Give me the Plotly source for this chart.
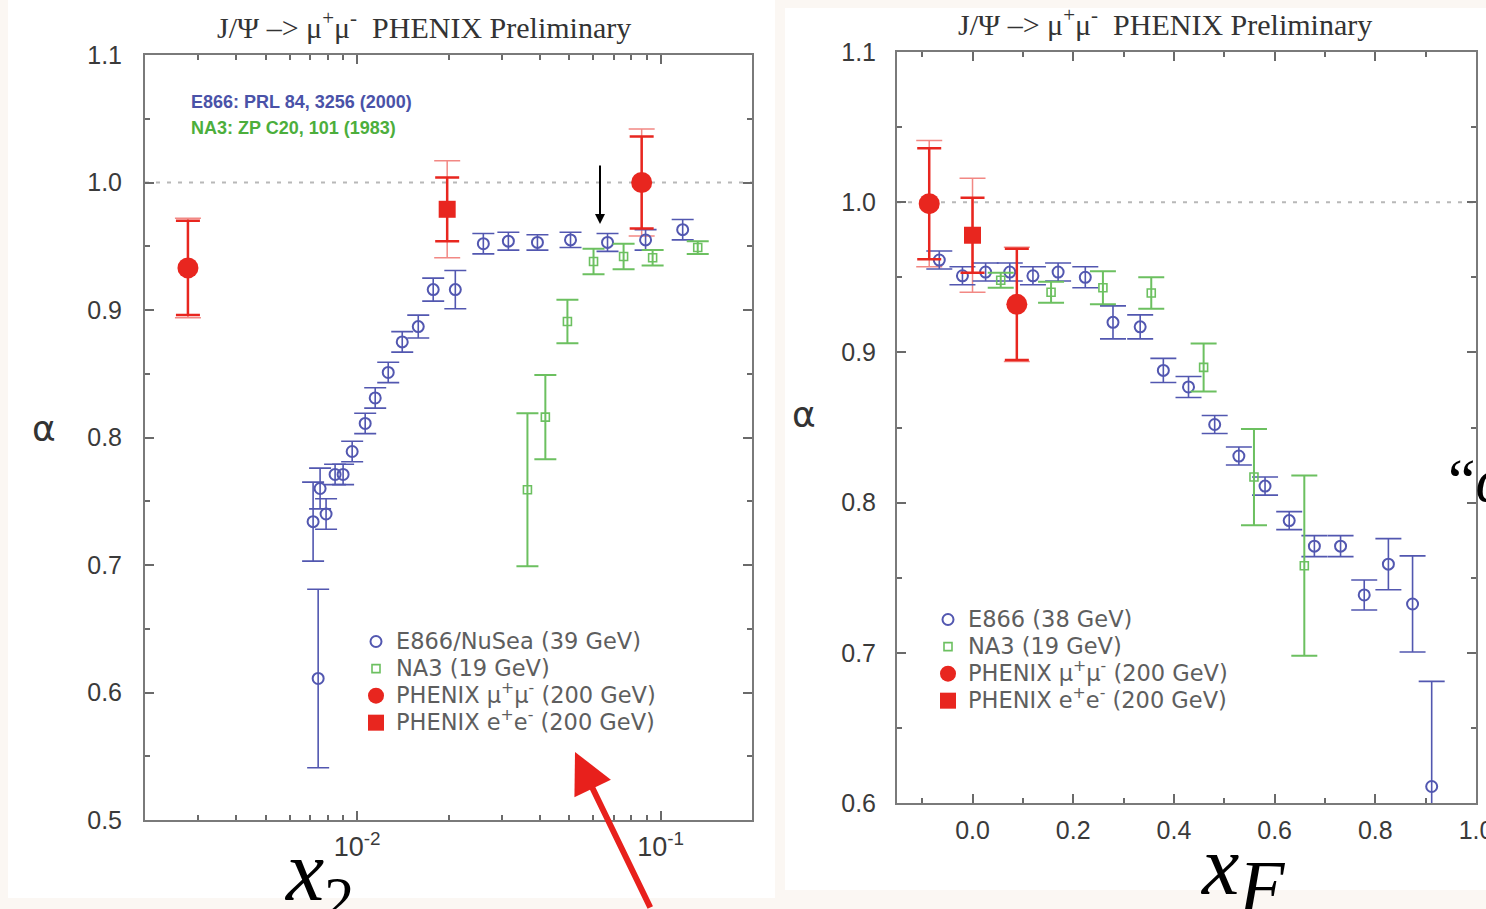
import math
import plotly.graph_objects as go

W, H = 1486, 909

# ---------------- data: left panel (alpha vs x2) ----------------
e866_x2 = [0.00716, 0.00744, 0.00755, 0.00790, 0.00846, 0.00899, 0.00963, 0.01063, 0.01147,
           0.01266, 0.01408, 0.01590, 0.01781, 0.02106, 0.02605, 0.03150, 0.03927, 0.05047,
           0.06683, 0.0892, 0.1182]
e866_a_x2 = [0.734, 0.611, 0.760, 0.740, 0.771, 0.771, 0.789, 0.811, 0.831,
             0.851, 0.875, 0.887, 0.916, 0.916, 0.952, 0.954, 0.953, 0.955,
             0.953, 0.955, 0.963]
e866_err_x2 = [0.031, 0.070, 0.016, 0.012, 0.008, 0.008, 0.008, 0.008, 0.008,
               0.008, 0.008, 0.009, 0.009, 0.015, 0.008, 0.007, 0.006, 0.006,
               0.007, 0.008, 0.008]

na3_x2 = [0.0364, 0.0417, 0.0493, 0.0601, 0.0755, 0.0941, 0.1325]
na3_a_x2 = [0.759, 0.816, 0.891, 0.938, 0.942, 0.941, 0.949]
na3_err_x2 = [0.060, 0.033, 0.017, 0.010, 0.010, 0.006, 0.005]

phx_mm_x2 = [0.00277, 0.0866]
phx_mm_a_x2 = [0.933, 1.000]
phx_mm_stat_x2 = [0.037, 0.036]
phx_mm_sys_x2 = [0.039, 0.042]

phx_ee_x2 = [0.0198]
phx_ee_a_x2 = [0.979]
phx_ee_stat_x2 = [0.025]
phx_ee_sys_x2 = [0.038]

# ---------------- data: right panel (alpha vs xF) ----------------
e866_xf = [-0.066, -0.020, 0.026, 0.074, 0.120, 0.170, 0.224, 0.279, 0.333, 0.379, 0.429,
           0.481, 0.529, 0.581, 0.629, 0.679, 0.731, 0.778, 0.826, 0.874, 0.912]
e866_a_xf = [0.9615, 0.951, 0.9535, 0.9535, 0.951, 0.9535, 0.950, 0.920, 0.917, 0.888, 0.877,
             0.852, 0.831, 0.811, 0.788, 0.771, 0.771, 0.7385, 0.759, 0.7325, 0.611]
e866_err_xf = [0.006, 0.006, 0.006, 0.006, 0.006, 0.006, 0.007, 0.011, 0.008, 0.008, 0.007,
               0.006, 0.006, 0.006, 0.006, 0.007, 0.007, 0.010, 0.017, 0.032, 0.070]

na3_xf = [0.056, 0.156, 0.259, 0.355, 0.459, 0.559, 0.659]
na3_a_xf = [0.948, 0.940, 0.943, 0.9395, 0.890, 0.817, 0.758]
na3_err_xf = [0.005, 0.007, 0.011, 0.0105, 0.016, 0.032, 0.060]

phx_mm_xf = [-0.086, 0.088]
phx_mm_a_xf = [0.999, 0.932]
phx_mm_stat_xf = [0.037, 0.037]
phx_mm_sys_xf = [0.042, 0.038]

phx_ee_xf = [0.0]
phx_ee_a_xf = [0.978]
phx_ee_stat_xf = [0.025]
phx_ee_sys_xf = [0.038]

# labels
title_text = "J/Ψ –> μ<sup>+</sup>μ<sup>-</sup>  PHENIX Preliminary"
left_names = ["E866/NuSea (39 GeV)", "NA3 (19 GeV)",
              "PHENIX μ<sup>+</sup>μ<sup>-</sup> (200 GeV)", "PHENIX e<sup>+</sup>e<sup>-</sup> (200 GeV)"]
right_names = ["E866 (38 GeV)", "NA3 (19 GeV)",
               "PHENIX μ<sup>+</sup>μ<sup>-</sup> (200 GeV)", "PHENIX e<sup>+</sup>e<sup>-</sup> (200 GeV)"]
x2_tickvals = [0.01, 0.1]
x2_ticktext = ["10<sup>-2</sup>", "10<sup>-1</sup>"]

BLUE = "#5257b0"
GREEN = "#6cc060"
RED = "#e8261f"
RED_SYS = "rgba(232,38,31,0.55)"


def px(v):
    return v / W


def py(v):
    return 1 - v / H


def legtext(s):
    return "<span style='font-size:22.5px'>" + s + "</span>"


fig = go.Figure()


def add_panel(xa, ya, leg, names, ex, ey, eerr, nx, ny, nerr,
              mx, my, mstat, msys, qx, qy, qstat, qsys, capw):
    common = dict(xaxis=xa, yaxis=ya, legend=leg)
    # systematic (drawn first, lighter)
    fig.add_trace(go.Scatter(x=mx, y=my, mode="markers", showlegend=False, hoverinfo="skip",
                             marker=dict(size=1, color="rgba(0,0,0,0)"),
                             error_y=dict(type="data", array=msys, color=RED_SYS, thickness=1.5, width=13),
                             **common))
    fig.add_trace(go.Scatter(x=qx, y=qy, mode="markers", showlegend=False, hoverinfo="skip",
                             marker=dict(size=1, color="rgba(0,0,0,0)"),
                             error_y=dict(type="data", array=qsys, color=RED_SYS, thickness=1.5, width=13),
                             **common))
    fig.add_trace(go.Scatter(x=ex, y=ey, mode="markers", name=legtext(names[0]),
                             marker=dict(symbol="circle-open", size=11, color=BLUE, line=dict(width=2, color=BLUE)),
                             error_y=dict(type="data", array=eerr, color=BLUE, thickness=1.6, width=capw),
                             legendrank=1, **common))
    fig.add_trace(go.Scatter(x=nx, y=ny, mode="markers", name=legtext(names[1]),
                             marker=dict(symbol="square-open", size=8, color=GREEN, line=dict(width=1.6, color=GREEN)),
                             error_y=dict(type="data", array=nerr, color=GREEN, thickness=2, width=capw),
                             legendrank=2, **common))
    fig.add_trace(go.Scatter(x=mx, y=my, mode="markers", name=legtext(names[2]),
                             marker=dict(symbol="circle", size=21, color=RED),
                             error_y=dict(type="data", array=mstat, color=RED, thickness=2.5, width=12),
                             legendrank=3, **common))
    fig.add_trace(go.Scatter(x=qx, y=qy, mode="markers", name=legtext(names[3]),
                             marker=dict(symbol="square", size=17, color=RED),
                             error_y=dict(type="data", array=qstat, color=RED, thickness=2.5, width=12),
                             legendrank=4, **common))


add_panel("x", "y", "legend", left_names, e866_x2, e866_a_x2, e866_err_x2, na3_x2, na3_a_x2, na3_err_x2,
          phx_mm_x2, phx_mm_a_x2, phx_mm_stat_x2, phx_mm_sys_x2,
          phx_ee_x2, phx_ee_a_x2, phx_ee_stat_x2, phx_ee_sys_x2, 11)
add_panel("x2", "y2", "legend2", right_names, e866_xf, e866_a_xf, e866_err_xf, na3_xf, na3_a_xf, na3_err_xf,
          phx_mm_xf, phx_mm_a_xf, phx_mm_stat_xf, phx_mm_sys_xf,
          phx_ee_xf, phx_ee_a_xf, phx_ee_stat_xf, phx_ee_sys_xf, 13)

TICKFONT = dict(family="Liberation Sans, Arial", size=25, color="#3a3a3a")
axis_common = dict(showline=True, linecolor="#7a7a7a", linewidth=2, mirror="ticks",
                   ticks="inside", ticklen=9, tickwidth=1.5, tickcolor="#6a6a6a",
                   showgrid=False, zeroline=False, automargin=False,
                   ticklabeloverflow="allow", tickfont=TICKFONT)

minor_x2 = [0.002, 0.003, 0.004, 0.005, 0.006, 0.007, 0.008, 0.009,
            0.02, 0.03, 0.04, 0.05, 0.06, 0.07, 0.08, 0.09, 0.2]

LEGFONT = dict(family="DejaVu Sans, Liberation Sans", size=18.5, color="#5e5e5e")

fig.update_layout(
    width=W, height=H, margin=dict(l=0, r=0, t=0, b=0, autoexpand=False),
    paper_bgcolor="#fbf7f3", plot_bgcolor="white",
    showlegend=True,
    xaxis=dict(domain=[px(145), px(752)], type="log", range=[math.log10(0.002), math.log10(0.2)],
               tickmode="array", tickvals=x2_tickvals, ticktext=x2_ticktext, anchor="y",
               minor=dict(tickmode="array", tickvals=minor_x2, ticks="inside", ticklen=5, tickcolor="#6a6a6a"),
               ticklabelstandoff=2,
               **{**axis_common, "tickfont": dict(family="Liberation Sans, Arial", size=27, color="#3a3a3a")}),
    yaxis=dict(domain=[py(820), py(55)], range=[0.5, 1.1], tick0=0.5, dtick=0.1, tickformat=".1f", anchor="x",
               minor=dict(dtick=0.05, ticks="inside", ticklen=5, tickcolor="#6a6a6a"),
               ticklabelstandoff=16, **axis_common),
    xaxis2=dict(domain=[px(897), px(1476)], range=[-0.15, 1.0], tick0=0, dtick=0.2, tickformat=".1f", anchor="y2",
                minor=dict(dtick=0.1, ticks="inside", ticklen=5, tickcolor="#6a6a6a"),
                ticklabelstandoff=4, **axis_common),
    yaxis2=dict(domain=[py(803), py(52)], range=[0.6, 1.1], tick0=0.6, dtick=0.1, tickformat=".1f", anchor="x2",
                minor=dict(dtick=0.05, ticks="inside", ticklen=5, tickcolor="#6a6a6a"),
                ticklabelstandoff=14, **axis_common),
    legend=dict(x=px(356), y=py(623), xanchor="left", yanchor="top", bgcolor="rgba(0,0,0,0)",
                font=LEGFONT, itemsizing="trace", tracegroupgap=0, traceorder="normal"),
    legend2=dict(x=px(928), y=py(601), xanchor="left", yanchor="top", bgcolor="rgba(0,0,0,0)",
                 font=LEGFONT, itemsizing="trace", tracegroupgap=0, traceorder="normal"),
)

shapes = [
    dict(type="rect", xref="paper", yref="paper", x0=px(8), x1=px(775), y0=py(898), y1=py(0),
         fillcolor="white", line=dict(width=0), layer="below"),
    dict(type="rect", xref="paper", yref="paper", x0=px(785), x1=px(1486), y0=py(890), y1=py(8),
         fillcolor="white", line=dict(width=0), layer="below"),
    dict(type="line", xref="x domain", yref="y", x0=0, x1=1, y0=1.0, y1=1.0,
         line=dict(color="#b8b8b8", width=2, dash="4px,7px"), layer="below"),
    dict(type="line", xref="x2 domain", yref="y2", x0=0, x1=1, y0=1.0, y1=1.0,
         line=dict(color="#b8b8b8", width=2, dash="4px,7px"), layer="below"),
]
fig.update_layout(shapes=shapes)

serif = "Liberation Serif, Times New Roman, serif"
ann = [
    dict(x=px(424), y=py(25), xanchor="center", yanchor="middle", text=title_text,
         font=dict(family=serif, size=30, color="#333")),
    dict(x=px(1165), y=py(22), xanchor="center", yanchor="middle", text=title_text,
         font=dict(family=serif, size=30, color="#333")),
    dict(x=px(44), y=py(428), xanchor="center", yanchor="middle", text="α",
         font=dict(family="DejaVu Sans", size=36, color="#333")),
    dict(x=px(804), y=py(415), xanchor="center", yanchor="middle", text="α",
         font=dict(family="DejaVu Sans", size=36, color="#333")),
    dict(x=px(189), y=py(102), xanchor="left", yanchor="middle", text="<b>E866: PRL 84, 3256 (2000)</b>",
         font=dict(family="Liberation Sans, Arial", size=18, color="#4a52a8")),
    dict(x=px(189), y=py(128), xanchor="left", yanchor="middle", text="<b>NA3: ZP C20, 101 (1983)</b>",
         font=dict(family="Liberation Sans, Arial", size=18, color="#4cae3c")),
    dict(x=px(282), y=py(877), xanchor="left", yanchor="middle", text="<i>x</i><sub>2</sub>",
         font=dict(family=serif, size=86, color="black")),
    dict(x=px(1198), y=py(873), xanchor="left", yanchor="middle",
         text="<i>x</i><sub><span style='font-size:74px'><i>F</i></span></sub>",
         font=dict(family=serif, size=84, color="black")),
    dict(x=px(1446), y=py(480), xanchor="left", yanchor="middle", text="“<i>α</i>",
         font=dict(family=serif, size=62, color="black")),
    # black arrow
    dict(x=px(600), y=py(224), ax=0, ay=-60, text="", showarrow=True, arrowhead=2,
         arrowsize=1, arrowwidth=2, arrowcolor="black"),
    # red arrow
    dict(x=px(575), y=py(752), ax=76, ay=175, text="", showarrow=True, arrowhead=2,
         arrowsize=1.35, arrowwidth=6, arrowcolor="#e8201c"),
]
for a in ann:
    a.setdefault("xref", "paper")
    a.setdefault("yref", "paper")
    a.setdefault("showarrow", False)
fig.update_layout(annotations=ann)

fig.write_html("out.html", include_plotlyjs=True, config={"displayModeBar": False})
